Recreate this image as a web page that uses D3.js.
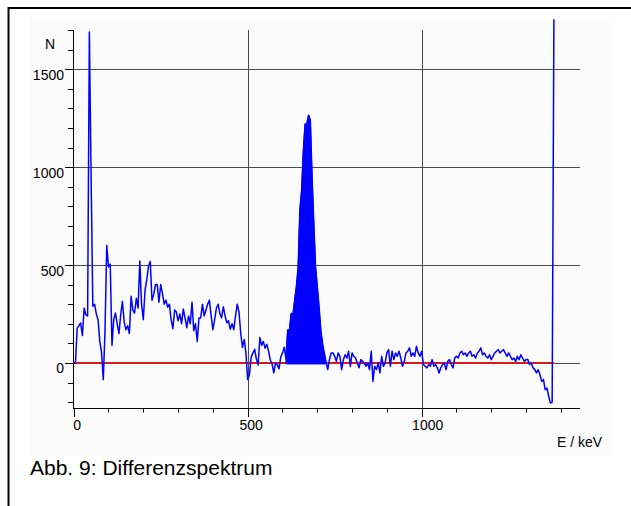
<!DOCTYPE html>
<html>
<head>
<meta charset="utf-8">
<script src="https://cdn.jsdelivr.net/npm/d3@7"></script>
<style>
  html, body { margin: 0; padding: 0; background: #ffffff; }
  svg { display: block; font-family: "Liberation Sans", Arial, sans-serif; }
</style>
</head>
<body>
<svg id="chart" width="631" height="506"></svg>
<script>
// ---------------- data ----------------
const startKeV = 0;      // first channel energy
const stepKeV = 5;       // channel width
// difference counts per channel, 0 ... 1380 keV
const counts = [
  0, 0, 178, 190, 204, 140, 280, 245, 240, 1690,          // 0-45
  950, 290, 300, 250, 221, 110, 55, -85, 165, 600,        // 50-95
  490, 505, 90, 221, 255, 200, 150, 246, 314, 210,        // 100-145
  170, 190, 150, 340, 270, 255, 330, 280, 520, 300,       // 150-195
  221, 370, 425, 495, 518, 320, 350, 400, 400, 310,       // 200-245
  400, 355, 300, 321, 285, 300, 220, 175, 270, 260,       // 250-295
  215, 250, 200, 275, 230, 180, 240, 200, 310, 165,       // 300-345
  200, 110, 230, 230, 300, 240, 270, 300, 320, 240,       // 350-395
  170, 220, 279, 300, 253, 230, 287, 240, 205, 215,       // 400-445
  172, 200, 170, 240, 300, 260, 151, 80, 120, 50,         // 450-495
  -85, -60, 30, 50, 70, 20, -10, 130, 90, 110,            // 500-545
  75, 95, 60, 15, -5, -50, 0, -10, -30, 30,               // 550-595
  50, 80, 20, 168, 168, 253, 245, 321, 390, 490,          // 600-645
  780, 880, 1085, 1220, 1220, 1265, 1240, 950, 710, 490,  // 650-695
  390, 287, 170, 100, 50, 5, -34, 17, 51, 51,             // 700-745
  34, 8, 51, 34, -34, 17, 42, 25, 60, -17,                // 750-795
  51, 34, 25, 0, -25, 17, 8, 0, -17, 0,                   // 800-845
  -34, 60, -94, -17, -34, 0, -51, 34, -17, 0,             // 850-895
  51, 68, -17, 60, 17, 51, 34, 60, 25, -17,               // 900-945
  8, 51, 60, 77, 34, 51, 34, 85, 51, 34,                  // 950-995
  60, -8, -17, -25, -8, -17, 17, -17, -8, -25,            // 1000-1045
  -51, -25, -8, 0, -34, 8, 17, -8, -25, 25,               // 1050-1095
  34, 25, 51, 60, 42, 51, 34, 51, 60, 34,                 // 1100-1145
  42, 25, 51, 60, 77, 42, 51, 34, 25, 42,                 // 1150-1195
  17, 34, 51, 60, 68, 51, 60, 68, 51, 34,                 // 1200-1245
  51, 34, 17, 25, 8, 34, 17, 42, 25, 8,                   // 1250-1295
  17, 17, -8, 0, -25, -34, -51, -34, -60, -94,            // 1300-1345
  -85, -136, -128, -170, -205, -200, 1755                 // 1350-1380
];
// energy window of the filled photo peak
const peakWindow = [610, 725];

// axis ticks
const xMajorTicks = [0, 500, 1000];
const xMinorTicks = [0, 100, 200, 300, 400, 500, 600, 700, 800, 900, 1000, 1100, 1200, 1300, 1400];
const yMajorTicks = [0, 500, 1000, 1500];
const yMinorTicks = [-200, -100, 0, 100, 200, 300, 400, 500, 600, 700, 800, 900, 1000, 1100, 1200, 1300, 1400, 1500, 1600, 1700];

const xTitle = "E / keV";
const yTitle = "N";
const caption = "Abb. 9: Differenzspektrum";

// ---------------- drawing ----------------
const points = counts.map((c, i) => ({ e: startKeV + i * stepKeV, n: c }));

const svg = d3.select("#chart");

// outer frame
svg.append("rect").attr("x", 8.5).attr("y", 8).attr("width", 640).attr("height", 520)
  .attr("fill", "#ffffff").attr("stroke", "#000").attr("stroke-width", 2);
// light panel behind the chart
svg.append("rect").attr("x", 29).attr("y", 19).attr("width", 584).attr("height", 437)
  .attr("fill", "#fafbfa");

const x = d3.scaleLinear().domain([0, 1455]).range([73.7, 580]);
const y = d3.scaleLinear().domain([-230, 1700]).range([408, 30]);

const g = svg.append("g");

// horizontal grid lines (major y)
g.append("g").selectAll("line").data(yMajorTicks).join("line")
  .attr("x1", 65).attr("x2", 580)
  .attr("y1", d => Math.round(y(d)) + 0.5).attr("y2", d => Math.round(y(d)) + 0.5)
  .attr("stroke", "#4a4a4a").attr("stroke-width", 1);

// vertical grid lines (major x, not at 0)
g.append("g").selectAll("line").data(xMajorTicks.filter(d => d !== 0)).join("line")
  .attr("x1", d => Math.round(x(d)) + 0.5).attr("x2", d => Math.round(x(d)) + 0.5)
  .attr("y1", 30).attr("y2", 417)
  .attr("stroke", "#4a4a4a").attr("stroke-width", 1);

// axes lines
g.append("line").attr("x1", 73.5).attr("x2", 73.5).attr("y1", 30).attr("y2", 408.5)
  .attr("stroke", "#000").attr("stroke-width", 1);
g.append("line").attr("x1", 73).attr("x2", 580).attr("y1", 408.5).attr("y2", 408.5)
  .attr("stroke", "#000").attr("stroke-width", 1);

// y minor ticks
g.append("g").selectAll("line").data(yMinorTicks).join("line")
  .attr("x1", 68).attr("x2", 73.5)
  .attr("y1", d => Math.round(y(d)) + 0.5).attr("y2", d => Math.round(y(d)) + 0.5)
  .attr("stroke", "#000").attr("stroke-width", 1);
// y major ticks
g.append("g").selectAll("line").data(yMajorTicks).join("line")
  .attr("x1", 65).attr("x2", 73.5)
  .attr("y1", d => Math.round(y(d)) + 0.5).attr("y2", d => Math.round(y(d)) + 0.5)
  .attr("stroke", "#000").attr("stroke-width", 1);
// x minor ticks
g.append("g").selectAll("line").data(xMinorTicks).join("line")
  .attr("x1", d => Math.round(x(d)) + 0.5).attr("x2", d => Math.round(x(d)) + 0.5)
  .attr("y1", 408).attr("y2", 412.5)
  .attr("stroke", "#000").attr("stroke-width", 1);
// x major ticks
g.append("g").selectAll("line").data(xMajorTicks).join("line")
  .attr("x1", d => Math.round(x(d)) + 0.5).attr("x2", d => Math.round(x(d)) + 0.5)
  .attr("y1", 408).attr("y2", 417)
  .attr("stroke", "#000").attr("stroke-width", 1);

// tick labels
g.append("g").selectAll("text").data(yMajorTicks).join("text")
  .attr("x", 64).attr("y", d => y(d) + 10.5)
  .attr("text-anchor", "end").attr("font-size", 14).attr("fill", "#000")
  .text(d => d);
g.append("g").selectAll("text").data(xMajorTicks).join("text")
  .attr("x", d => x(d) + (d === 0 ? 3.5 : d >= 1000 ? 6 : 3.5)).attr("y", 429.5)
  .attr("text-anchor", "middle").attr("font-size", 14).attr("fill", "#000")
  .text(d => d);

// axis titles
svg.append("text").attr("x", 45).attr("y", 48.5).attr("font-size", 14).attr("fill", "#000").text(yTitle);
svg.append("text").attr("x", 557).attr("y", 446.5).attr("font-size", 14).attr("fill", "#000").text(xTitle);

// zero baseline (red)
g.append("line").attr("x1", x(0)).attr("x2", x(points[points.length - 1].e))
  .attr("y1", y(0)).attr("y2", y(0))
  .attr("stroke", "#dd1a1a").attr("stroke-width", 2);

// spectrum line
const line = d3.line().x(d => x(d.e)).y(d => y(d.n));
g.append("path").datum(points).attr("d", line)
  .attr("fill", "none").attr("stroke", "#0000ff").attr("stroke-width", 1.5)
  .attr("stroke-linejoin", "round");

// filled photo peak
const peakPts = points.filter(d => d.e >= peakWindow[0] && d.e <= peakWindow[1]);
const area = d3.area().x(d => x(d.e)).y0(y(0) + 1).y1(d => y(d.n));
g.append("path").datum(peakPts).attr("d", area)
  .attr("fill", "#0000ff").attr("stroke", "#0000ff").attr("stroke-width", 1);

// caption
svg.append("text").attr("x", 30).attr("y", 475).attr("font-size", 21).attr("fill", "#000").text(caption);
</script>
</body>
</html>
